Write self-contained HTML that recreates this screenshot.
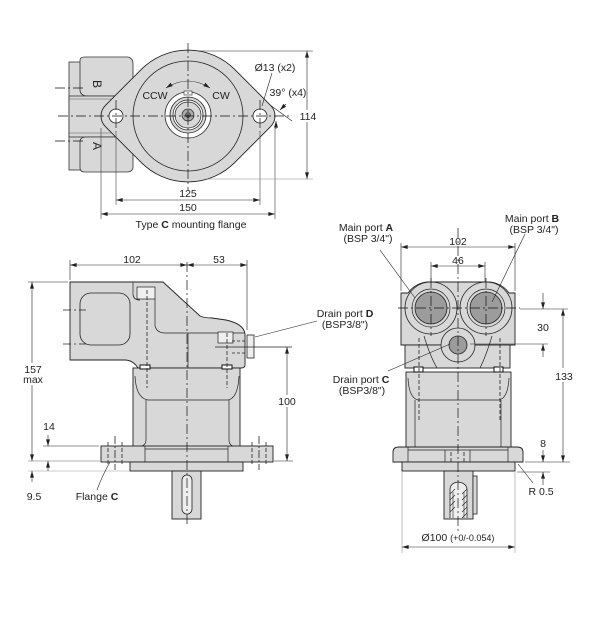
<!DOCTYPE html>
<html><head><meta charset="utf-8"><style>
html,body{margin:0;padding:0;background:#fff;}
svg{display:block;}
text{font-family:"Liberation Sans",Arial,sans-serif;fill:#222;}
</style></head><body>
<svg width="603" height="625" viewBox="0 0 603 625" xmlns="http://www.w3.org/2000/svg">
<defs>
<marker id="ar" viewBox="0 0 10 6" refX="10" refY="3" markerWidth="8" markerHeight="4" markerUnits="userSpaceOnUse" orient="auto-start-reverse"><path d="M0,0 L10,3 L0,6 z" fill="#222"/></marker>
</defs>
<g fill="none" stroke="#222" stroke-width="0.6">
<!-- ================= TOP VIEW ================= -->
<g fill="#d8d8d8" stroke="#333" stroke-width="0.8">
<rect x="69" y="62" width="16" height="108"/>
<path d="M80,60 Q80,57 85,57 L128,57 Q133,58 133,64 L133,92 Q131,96 126,96 L86,96 Q80,95 80,90 Z"/>
<rect x="69" y="96" width="55" height="41"/>
<path d="M80,142 Q80,137 86,137 L126,137 Q133,138 133,143 L133,168 Q132,172 127,172 L85,172 Q80,172 80,168 Z"/>
</g>
<path d="M69,99 L118,99 M69,133 L118,133" stroke="#555"/>
<text x="0" y="0" font-size="12" transform="translate(93,80) rotate(90)" stroke="none">B</text>
<text x="0" y="0" font-size="12" transform="translate(93,142) rotate(90)" stroke="none">A</text>
<path d="M141.3,69.4 A66,66 0 0 1 234.7,69.4 L270.6,105.4 A15,15 0 0 1 270.6,126.6 L234.7,162.6 A66,66 0 0 1 141.3,162.6 L105.4,126.6 A15,15 0 0 1 105.4,105.4 Z" fill="#d8d8d8" stroke="#222" stroke-width="0.9"/>
<circle cx="188" cy="116" r="55" stroke-width="0.8"/>
<circle cx="116" cy="116" r="7" fill="#fff" stroke-width="0.8"/>
<circle cx="260" cy="116" r="7" fill="#fff" stroke-width="0.8"/>
<circle cx="188" cy="115" r="23" fill="#fff" stroke-width="0.8"/>
<circle cx="188" cy="115" r="18" fill="#d8d8d8" stroke-width="0.8"/>
<circle cx="188" cy="115" r="15" fill="#fff" stroke-width="0.7"/>
<circle cx="188" cy="115" r="13" fill="#d8d8d8" stroke-width="0.7"/>
<circle cx="188" cy="115" r="6" fill="#aaa" stroke-width="0.7"/>
<circle cx="188" cy="115" r="2.5" fill="#666" stroke-width="0.5"/>
<rect x="184" y="91" width="8" height="4" fill="#fff" stroke-width="0.6"/>
<!-- center lines -->
<g stroke="#111" stroke-width="0.7" stroke-dasharray="10,3,2,3">
<path d="M58,116 L292,116"/>
<path d="M188,43 L188,190"/>
<path d="M55,88 L84,88 M55,141 L84,141"/>
<path d="M116,100 L116,132 M260,100 L260,132"/>
</g>
<path d="M116,132 L116,205 M260,132 L260,205 M101,128 L101,219 M275,128 L275,219" stroke="#444"/>
<path d="M116,200 L260,200" marker-start="url(#ar)" marker-end="url(#ar)"/>
<path d="M101,214 L275,214" marker-start="url(#ar)" marker-end="url(#ar)"/>
<path d="M198,51 L313,51"/>
<path d="M205,179 L313,179" stroke="#888"/>
<path d="M307,51 L307,179" marker-start="url(#ar)" marker-end="url(#ar)"/>
<rect x="299" y="110" width="18" height="12" fill="#fff" stroke="none"/>
<!-- arc arrow CCW/CW -->
<path d="M166,88 Q188,74 210,88" marker-start="url(#ar)" marker-end="url(#ar)"/>
<!-- O13 leader -->
<path d="M272,73 L262,106"/>
<!-- 39 deg -->
<path d="M270.6,105.4 L292,121"/>
<path d="M286,104 L280,110" marker-end="url(#ar)"/>
<path d="M276,129 L276,121" marker-end="url(#ar)"/>
<!-- ================= BOTTOM LEFT VIEW ================= -->
<path d="M70,265 L187,265" marker-start="url(#ar)" marker-end="url(#ar)"/>
<path d="M187,265 L247,265" marker-start="url(#ar)" marker-end="url(#ar)"/>
<path d="M70,260 L70,280 M247,260 L247,330"/>
<!-- housing -->
<path d="M70,282 L163,282 L200,316 Q204,318 212,318 L226,320 Q244,324 245,334 L245,365 Q245,368 241,368 L138,368 Q133,360 125,360 L70,360 Z" fill="#d8d8d8" stroke="#222" stroke-width="0.9"/>
<rect x="80" y="293" width="50" height="52" rx="11" fill="#d8d8d8" stroke="#222" stroke-width="0.8"/>
<rect x="137" y="287" width="18" height="12" fill="#efefef" stroke="#222" stroke-width="0.7"/>
<path d="M133,282 L133,295 Q134,300 140,300 M155,299 L155,326 Q157,333 165,333 L245,333" stroke-width="0.7"/>
<path d="M188,333 L188,368" stroke-width="0.7"/>
<rect x="218" y="332" width="15" height="11" fill="#efefef" stroke="#222" stroke-width="0.7"/>
<rect x="247" y="335" width="7" height="23" fill="#eee" stroke="#222" stroke-width="0.8"/>
<path d="M232,341 L247,341 M232,353 L247,353" stroke-dasharray="3,2" stroke-width="0.8"/>
<path d="M63,310 L86,310 M63,344 L86,344" stroke-dasharray="8,3,2,3" stroke-width="0.7"/>
<!-- lower body -->
<rect x="133" y="368" width="107" height="80" fill="#d8d8d8" stroke="#222" stroke-width="0.9"/>
<path d="M135,376 Q136,398 148,400 L228,400 Q238,398 239,376" stroke-width="0.7"/>
<path d="M146,400 L146,440 Q146,446 138,447 M229,400 L229,440 Q229,446 236,447" stroke-width="0.7"/>
<rect x="140" y="365" width="10" height="4" fill="#fff" stroke="#111" stroke-width="1"/>
<rect x="222" y="365" width="10" height="4" fill="#fff" stroke="#111" stroke-width="1"/>
<rect x="101" y="446" width="172" height="16" fill="#d8d8d8" stroke="#222" stroke-width="0.9"/>
<path d="M145,446 L145,462 M228,446 L228,462 M145,449 L228,449" stroke-width="0.7"/>
<rect x="130" y="462" width="113" height="9" fill="#d8d8d8" stroke="#222" stroke-width="0.9"/>
<rect x="172" y="471" width="29" height="48" fill="#d8d8d8" stroke="#222" stroke-width="0.9"/>
<rect x="182" y="475" width="10" height="39" rx="5" fill="#eee" stroke="#222" stroke-width="0.8"/>
<path d="M147,290 L147,388 M227,333 L227,388 M108,442 L108,465 M122,442 L122,465 M252,442 L252,465 M266,442 L266,465" stroke-dasharray="4,2" stroke-width="0.8"/>
<path d="M115,436 L115,470 M259,436 L259,470" stroke-dasharray="8,2,2,2" stroke-width="0.8"/>
<path d="M187,262 L187,524" stroke="#111" stroke-width="0.7" stroke-dasharray="10,3,2,3"/>
<path d="M215,347 L292,347" stroke-width="0.7"/>
<!-- dims -->
<path d="M28,282 L68,282"/>
<path d="M32,282 L32,461" marker-start="url(#ar)" marker-end="url(#ar)"/>
<rect x="20" y="363" width="25" height="22" fill="#fff" stroke="none"/>
<path d="M43,446 L99,446"/>
<path d="M28,461 L100,461" stroke="#666"/>
<path d="M28,471 L130,471" stroke="#999"/>
<path d="M48,435 L48,446" marker-end="url(#ar)"/>
<path d="M48,471 L48,461" marker-end="url(#ar)"/>
<path d="M32,482 L32,471" marker-end="url(#ar)"/>
<path d="M97,490 Q102,476 110,462"/>
<path d="M287,347 L287,461" marker-start="url(#ar)" marker-end="url(#ar)"/>
<path d="M274,461 L293,461"/>
<rect x="277" y="395" width="21" height="12" fill="#fff" stroke="none"/>
<path d="M317,321 L255,337"/>
<!-- ================= BOTTOM RIGHT VIEW ================= -->
<path d="M401,243 L401,291 M515,243 L515,291 M431,262 L431,283 M485,262 L485,283"/>
<path d="M401,247 L515,247" marker-start="url(#ar)" marker-end="url(#ar)"/>
<path d="M431,266 L485,266" marker-start="url(#ar)" marker-end="url(#ar)"/>
<path d="M401,345 L401,293 L408,293 A26,26 0 0 1 431,282 L486,282 A26,26 0 0 1 509,293 L515,293 L515,345 Z" fill="#d8d8d8" stroke="#222" stroke-width="0.9"/>
<rect x="405" y="345" width="105" height="23" fill="#d8d8d8" stroke="#222" stroke-width="0.9"/>
<circle cx="431" cy="308" r="26" stroke-width="0.8"/>
<circle cx="486" cy="308" r="26" stroke-width="0.8"/>
<circle cx="431" cy="308" r="19" stroke-width="0.7"/>
<circle cx="486" cy="308" r="19" stroke-width="0.7"/>
<circle cx="431" cy="308" r="16" fill="#9c9c9c" stroke-width="0.8"/>
<circle cx="486" cy="308" r="16" fill="#9c9c9c" stroke-width="0.8"/>
<path d="M424,336 Q430,356 437,368 M492,336 Q486,356 480,368" stroke-width="0.7"/>
<circle cx="458" cy="345" r="17" fill="#d8d8d8" stroke-width="0.8"/>
<circle cx="458" cy="345" r="9" fill="#9c9c9c" stroke-width="0.8"/>
<rect x="406" y="372" width="105" height="77" fill="#d8d8d8" stroke="#222" stroke-width="0.9"/>
<path d="M408,378 Q409,398 418,400 L499,400 Q508,398 509,378" stroke-width="0.7"/>
<path d="M415,400 L415,448 M501,400 L501,448" stroke-width="0.7"/>
<rect x="414" y="367" width="9" height="5" fill="#fff" stroke="#111" stroke-width="1"/>
<rect x="494" y="367" width="9" height="5" fill="#fff" stroke="#111" stroke-width="1"/>
<path d="M393,462 L393,452 Q393,447 399,447 L517,447 Q523,447 523,452 L523,462 Z" fill="#d8d8d8" stroke="#222" stroke-width="0.9"/>
<path d="M408,447 L408,462 M508,447 L508,462 M445,450 L445,462 M470,450 L470,462 M408,450 L508,450" stroke-width="0.7"/>
<rect x="402" y="462" width="113" height="9" fill="#d8d8d8" stroke="#222" stroke-width="0.9"/>
<rect x="444" y="471" width="29" height="48" fill="#d8d8d8" stroke="#222" stroke-width="0.9"/>
<rect x="473" y="476" width="4" height="38" fill="#d8d8d8" stroke="#222" stroke-width="0.8"/>
<path d="M450,518 L450,490 Q450,483 458,482 Q467,483 467,490 L467,518" fill="#eee" stroke="#222" stroke-width="0.8"/>
<path d="M453,518 L453,492 M464,518 L464,492 M450,494 L455,489 M450,500 L455,495 M450,506 L455,501 M450,512 L455,507 M462,494 L467,489 M462,500 L467,495 M462,506 L467,501 M462,512 L467,507 M462,518 L467,513" stroke-width="0.6"/>
<path d="M419,338 L419,420 M500,338 L500,420 M451,452 L451,462 M464,452 L464,462" stroke-dasharray="4,2" stroke-width="0.8"/>
<g stroke="#111" stroke-width="0.7" stroke-dasharray="10,3,2,3">
<path d="M458,228 L458,532"/>
<path d="M398,308 L520,308"/>
<path d="M431,278 L431,336 M486,278 L486,336"/>
</g>
<path d="M520,309 L568,309 M470,344 L548,344"/>
<path d="M543,293 L543,309" marker-end="url(#ar)"/>
<path d="M543,357 L543,344" marker-end="url(#ar)"/>
<path d="M563,309 L563,462" marker-start="url(#ar)" marker-end="url(#ar)"/>
<rect x="553" y="368" width="22" height="14" fill="#fff" stroke="none"/>
<path d="M525,462 L570,462 M517,472 L550,472"/>
<path d="M543,450 L543,462" marker-end="url(#ar)"/>
<path d="M543,485 L543,472" marker-end="url(#ar)"/>
<path d="M533,483 L518,464"/>
<path d="M402,472 L402,553 M515,472 L515,553" stroke="#999"/>
<path d="M402,547 L515,547" marker-start="url(#ar)" marker-end="url(#ar)"/>
<path d="M380,250 L415,298 M525,234 L492,302 M388,371 L450,344"/>
</g>
<!-- TEXT -->
<g font-size="10.5" text-anchor="middle">
<text x="155" y="99">CCW</text>
<text x="221" y="99">CW</text>
<text x="275" y="71">Ø13 (x2)</text>
<text x="288" y="96">39° (x4)</text>
<text x="308" y="120">114</text>
<text x="188" y="197">125</text>
<text x="188" y="211">150</text>
<text x="191" y="228">Type <tspan font-weight="bold">C</tspan> mounting flange</text>
<text x="132" y="263">102</text>
<text x="219" y="263">53</text>
<text x="33" y="373">157</text>
<text x="33" y="383">max</text>
<text x="49" y="430">14</text>
<text x="34" y="500">9.5</text>
<text x="97" y="500">Flange <tspan font-weight="bold">C</tspan></text>
<text x="345" y="317">Drain port <tspan font-weight="bold">D</tspan></text>
<text x="345" y="328">(BSP3/8")</text>
<text x="287" y="405">100</text>
<text x="366" y="231">Main port <tspan font-weight="bold">A</tspan></text>
<text x="368" y="242">(BSP 3/4")</text>
<text x="532" y="222">Main port <tspan font-weight="bold">B</tspan></text>
<text x="534" y="233">(BSP 3/4")</text>
<text x="458" y="245">102</text>
<text x="458" y="264">46</text>
<text x="361" y="383">Drain port <tspan font-weight="bold">C</tspan></text>
<text x="362" y="394">(BSP3/8")</text>
<text x="543" y="331">30</text>
<text x="564" y="380">133</text>
<text x="543" y="447">8</text>
<text x="541" y="495">R 0.5</text>
<text x="458" y="541">Ø100 <tspan font-size="9">(+0/-0.054)</tspan></text>
</g>
</svg>
</body></html>
